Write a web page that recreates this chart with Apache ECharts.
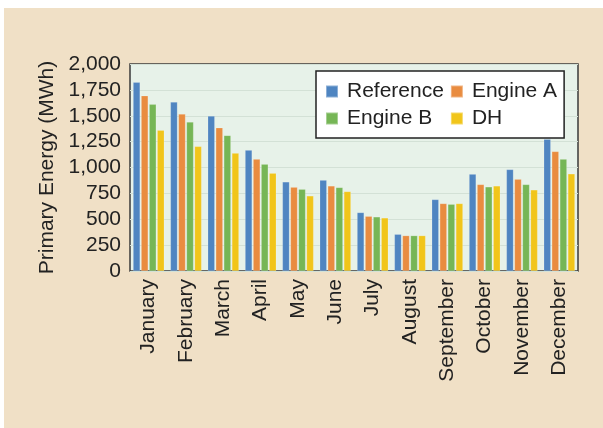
<!DOCTYPE html>
<html>
<head>
<meta charset="utf-8">
<script src="https://cdn.jsdelivr.net/npm/echarts@6/dist/echarts.min.js"></script>
<style>
  html, body { margin: 0; padding: 0; background: #ffffff; }
  #bg { position: absolute; left: 4px; top: 8px; right: 0; bottom: 0; background: #f0e0c6; }
  #chart { position: absolute; left: 0; top: 0; width: 603px; height: 428px; }
</style>
</head>
<body>
<div id="bg"></div>
<div id="chart"></div>
<script>
var MONTHS = ['January', 'February', 'March', 'April', 'May', 'June',
  'July', 'August', 'September', 'October', 'November', 'December'];
var REFERENCE = [1823, 1632, 1497, 1168, 861, 878, 565, 355, 691, 936, 981, 1274];
var ENGINE_A  = [1693, 1516, 1384, 1081, 810, 822, 529, 342, 652, 836, 887, 1155];
var ENGINE_B  = [1610, 1439, 1310, 1032, 790, 807, 523, 342, 645, 813, 836, 1081];
var DH        = [1361, 1204, 1139, 945, 726, 768, 513, 342, 652, 822, 784, 939];
var Y_TICKS = [0, 250, 500, 750, 1000, 1250, 1500, 1750, 2000];
// legend reads column by column
var LEGEND_ORDER = ['Reference', 'Engine B', 'Engine A', 'DH'];

var SERIES = [
  { name: 'Reference', data: REFERENCE, color: '#4f85c1' },
  { name: 'Engine A', data: ENGINE_A, color: '#e98c40' },
  { name: 'Engine B', data: ENGINE_B, color: '#76b656' },
  { name: 'DH', data: DH, color: '#f1c51a' }
];

var FONT = 'Liberation Sans';
var chart = echarts.init(document.getElementById('chart'), null, { renderer: 'canvas' });

chart.setOption({
  backgroundColor: 'transparent',
  animation: false,
  textStyle: { fontFamily: FONT },
  grid: {
    left: 130, top: 64, right: 25, bottom: 157,
    show: true, backgroundColor: '#e7f2e9',
    borderColor: '#3a3a3a', borderWidth: 1.5,
    containLabel: false
  },
  legend: {
    orient: 'vertical',
    left: 316, top: 71,
    height: 50,
    padding: [10, 7, 9, 9],
    itemWidth: 12, itemHeight: 12, itemGap: 6,
    icon: 'rect',
    backgroundColor: '#ffffff',
    borderColor: '#222', borderWidth: 1.5,
    textStyle: { fontSize: 21, color: '#222', fontFamily: FONT, padding: [0, 3, 0, 4] },
    data: LEGEND_ORDER
  },
  xAxis: {
    type: 'category',
    data: MONTHS,
    axisLine: { show: false },
    axisTick: { show: false },
    axisLabel: { rotate: 90, margin: 8, fontSize: 21, color: '#222', fontFamily: FONT }
  },
  yAxis: {
    type: 'value',
    min: 0, max: 2000, interval: 250,
    name: 'Primary Energy (MWh)',
    nameLocation: 'middle',
    nameGap: 72,
    nameTextStyle: { fontSize: 21, color: '#222', fontFamily: FONT },
    axisLine: { show: false },
    axisTick: { show: false },
    axisLabel: {
      margin: 9, fontSize: 21, color: '#222', fontFamily: FONT,
      formatter: function (v) { return Y_TICKS.indexOf(v) >= 0 ? v.toLocaleString('en-US') : ''; }
    },
    splitLine: { lineStyle: { color: '#d3e1d6', width: 1 } }
  },
  series: SERIES.map(function (s) {
    return {
      name: s.name,
      type: 'bar',
      data: s.data,
      barWidth: 7,
      barGap: '15%',
      itemStyle: { color: s.color, borderColor: 'rgba(255,255,255,0.35)', borderWidth: 0.5 }
    };
  })
});
</script>
</body>
</html>
